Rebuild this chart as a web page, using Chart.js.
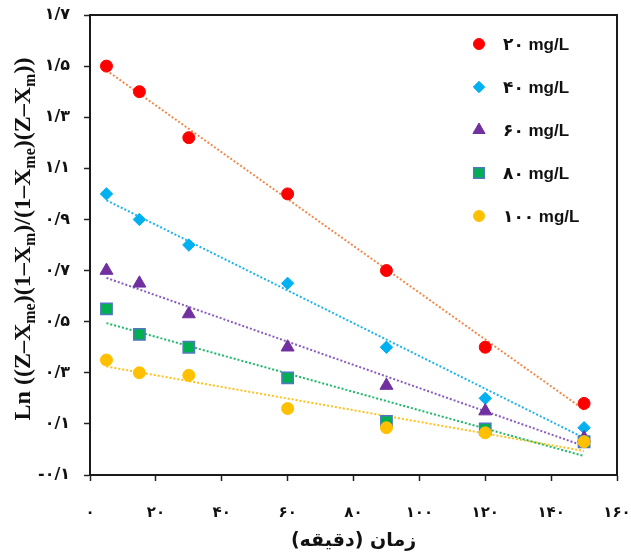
<!DOCTYPE html>
<html>
<head>
<meta charset="utf-8">
<script src="https://cdn.jsdelivr.net/npm/chart.js@4/dist/chart.umd.min.js"></script>
<style>
  html, body { margin: 0; padding: 0; background: #fff; }
  canvas { display: block; }
</style>
</head>
<body>
<canvas id="kineticsChart" width="631" height="558"></canvas>
<script>
// sampling times (minutes)
const times = [5, 15, 30, 60, 90, 120, 150];

// initial concentrations
const seriesLabels = ['۲۰ mg/L', '۴۰ mg/L', '۶۰ mg/L', '۸۰ mg/L', '۱۰۰ mg/L'];

// Ln((Z-Xme)(1-Xm)/(1-Xme)(Z-Xm)) for each concentration
const conc20  = [1.50, 1.40, 1.22, 1.00, 0.70, 0.40, 0.18];
const conc40  = [1.00, 0.90, 0.80, 0.65, 0.40, 0.20, 0.085];
const conc60  = [0.70, 0.65, 0.53, 0.40, 0.25, 0.15, 0.045];
const conc80  = [0.55, 0.45, 0.40, 0.28, 0.11, 0.08, 0.03];
const conc100 = [0.35, 0.30, 0.29, 0.16, 0.085, 0.065, 0.03];

const xTickLabels = ['۰', '۲۰', '۴۰', '۶۰', '۸۰', '۱۰۰', '۱۲۰', '۱۴۰', '۱۶۰'];
const yTickLabels = ['-۰/۱', '۰/۱', '۰/۳', '۰/۵', '۰/۷', '۰/۹', '۱/۱', '۱/۳', '۱/۵', '۱/۷'];

const allSeries = [conc20, conc40, conc60, conc80, conc100];

// marker look per series
const markerStyles = ['circle', 'rectRot', 'triangle', 'rect', 'circle'];
const markerRadius = [6, 6.2, 7.5, 8, 6];
const markerFill   = ['#FF0000', '#00B0F0', '#7030A0', '#00B050', '#FFC000'];
const markerEdge   = ['#FF0000', '#00B0F0', '#7030A0', '#4F78C0', '#FFC000'];
const markerEdgeW  = [1, 1, 1, 1.5, 1];
const trendColors  = ['#F08A4B', '#1DB4EE', '#8A5CC0', '#1FB86A', '#FFC21A'];

// least squares line, same as a linear trendline
function linearFit(xs, ys) {
    const n = xs.length;
    const mx = xs.reduce((a, b) => a + b, 0) / n;
    const my = ys.reduce((a, b) => a + b, 0) / n;
    let sxy = 0, sxx = 0;
    for (let i = 0; i < n; i++) {
        sxy += (xs[i] - mx) * (ys[i] - my);
        sxx += (xs[i] - mx) * (xs[i] - mx);
    }
    const slope = sxy / sxx;
    return x => my + slope * (x - mx);
}

const datasets = [];
allSeries.forEach((vals, i) => {
    datasets.push({
        label: seriesLabels[i],
        data: times.map((t, k) => ({ x: t, y: vals[k] })),
        showLine: false,
        pointStyle: markerStyles[i],
        pointRadius: markerRadius[i],
        pointHoverRadius: markerRadius[i],
        backgroundColor: markerFill[i],
        borderColor: markerEdge[i],
        borderWidth: markerEdgeW[i],
        order: 5 - i
    });
});
allSeries.forEach((vals, i) => {
    const fit = linearFit(times, vals);
    const x0 = times[0], x1 = times[times.length - 1];
    datasets.push({
        label: 'trend',
        data: [{ x: x0, y: fit(x0) }, { x: x1, y: fit(x1) }],
        showLine: true,
        pointRadius: 0,
        borderColor: trendColors[i],
        borderWidth: 2,
        borderDash: [2, 2],
        fill: false,
        order: 10
    });
});

// box around the plot area
const frame = {
    id: 'frame',
    afterDatasetsDraw(chart) {
        const { ctx, chartArea: a } = chart;
        ctx.save();
        ctx.strokeStyle = '#1a1a1a';
        ctx.lineWidth = 2;
        ctx.strokeRect(a.left, a.top, a.right - a.left, a.bottom - a.top);
        ctx.restore();
    }
};

// legend in the upper right corner of the plot
const cornerLegend = {
    id: 'cornerLegend',
    afterDraw(chart) {
        const { ctx, chartArea: a } = chart;
        ctx.save();
        ctx.font = 'bold 17px "Liberation Sans", "DejaVu Sans"';
        ctx.textBaseline = 'middle';
        ctx.textAlign = 'left';
        seriesLabels.forEach((lab, i) => {
            const y = a.top + 29 + i * 43;
            const x = a.right - 138;
            ctx.fillStyle = markerFill[i];
            ctx.strokeStyle = markerEdge[i];
            ctx.lineWidth = markerEdgeW[i];
            Chart.helpers.drawPoint(ctx, {
                pointStyle: markerStyles[i],
                radius: markerRadius[i] - 0.5,
                rotation: 0,
                borderWidth: markerEdgeW[i]
            }, x, y);
            ctx.fillStyle = '#111';
            ctx.fillText(lab, x + 24, y + 1);
        });
        ctx.restore();
    }
};

// rotated y title with subscripts
const yTitle = {
    id: 'yTitle',
    afterDraw(chart) {
        const { ctx, chartArea: a } = chart;
        const parts = [
            ['Ln ((Z–X', 0], ['me', 1], [')(1–X', 0], ['m', 1],
            [')/(1–X', 0], ['me', 1], [')(Z–X', 0], ['m', 1], ['))', 0]
        ];
        const mainFont = 'bold 24px "Liberation Serif", "DejaVu Serif"';
        const subFont = 'bold 16px "Liberation Serif", "DejaVu Serif"';
        ctx.save();
        let total = 0;
        parts.forEach(p => {
            ctx.font = p[1] ? subFont : mainFont;
            total += ctx.measureText(p[0]).width;
        });
        ctx.translate(22, (a.top + a.bottom) / 2 - 6);
        ctx.rotate(-Math.PI / 2);
        ctx.fillStyle = '#111';
        ctx.textBaseline = 'alphabetic';
        let x = -total / 2;
        parts.forEach(p => {
            ctx.font = p[1] ? subFont : mainFont;
            ctx.fillText(p[0], x, p[1] ? 13 : 8);
            x += ctx.measureText(p[0]).width;
        });
        ctx.restore();
    }
};

const ctx = document.getElementById('kineticsChart').getContext('2d');
new Chart(ctx, {
    type: 'scatter',
    data: { datasets },
    options: {
        responsive: false,
        animation: false,
        events: [],
        layout: { padding: { top: 15, right: 14, left: 0, bottom: 0 } },
        plugins: {
            legend: { display: false },
            tooltip: { enabled: false },
            title: { display: false }
        },
        scales: {
            x: {
                type: 'linear',
                min: 0,
                max: 160,
                afterFit(scale) {
                    scale.height = 83;
                    scale.paddingLeft = 0;
                    scale.paddingRight = 0;
                },
                ticks: {
                    stepSize: 20,
                    padding: 23,
                    color: '#111',
                    font: { family: '"DejaVu Sans"', size: 15, weight: 'bold' },
                    callback: (v, i) => xTickLabels[i]
                },
                grid: { drawOnChartArea: false, drawTicks: true, tickLength: 6, color: '#222', tickWidth: 1.5 },
                border: { display: true, color: '#1a1a1a', width: 2 },
                title: {
                    display: true,
                    text: 'زمان (دقیقه)',
                    color: '#111',
                    font: { family: '"DejaVu Sans"', size: 19, weight: 'bold' },
                    padding: { top: 0, bottom: 6 }
                }
            },
            y: {
                type: 'linear',
                min: -0.1,
                max: 1.7,
                afterFit(scale) {
                    scale.width = 90;
                    scale.paddingTop = 0;
                    scale.paddingBottom = 0;
                },
                ticks: {
                    stepSize: 0.2,
                    padding: 14,
                    color: '#111',
                    font: { family: '"DejaVu Sans"', size: 16, weight: 'bold' },
                    callback: (v, i) => yTickLabels[i]
                },
                grid: { drawOnChartArea: false, drawTicks: true, tickLength: 6, color: '#222', tickWidth: 1.5 },
                border: { display: true, color: '#1a1a1a', width: 2 }
            }
        }
    },
    plugins: [frame, cornerLegend, yTitle]
});
</script>
</body>
</html>
